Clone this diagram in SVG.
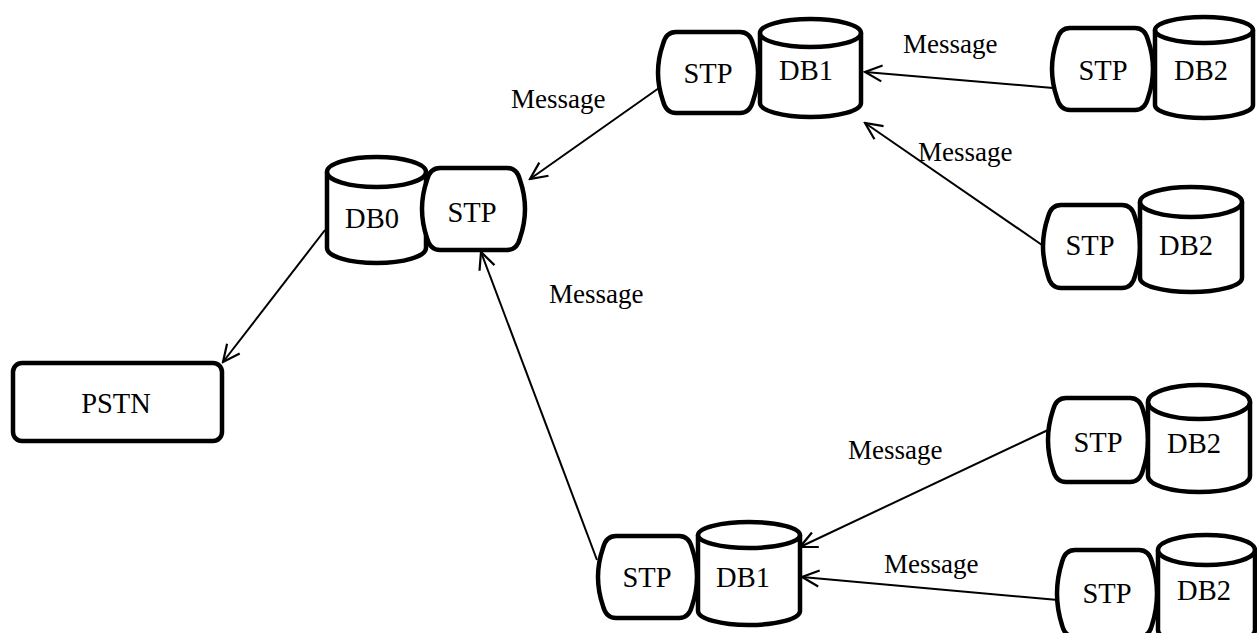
<svg xmlns="http://www.w3.org/2000/svg" width="1257" height="633" viewBox="0 0 1257 633">
<style>
.shape{fill:#fff;stroke:#000;stroke-width:4.5;stroke-linejoin:round}
.lbl{font-family:"Liberation Serif","Times New Roman",serif;font-size:27px;fill:#000}
.c{text-anchor:middle;font-size:28.5px}
.conn line{stroke:#000;stroke-width:2}
</style>
<defs>
<marker id="arr" viewBox="0 0 22 22" refX="20" refY="11" markerWidth="22" markerHeight="22" markerUnits="userSpaceOnUse" orient="auto">
<path d="M3,3 L20,11 L3,19" fill="none" stroke="#000" stroke-width="2.2"/>
</marker>
</defs>
<rect width="1257" height="633" fill="#fff"/>

<g id="pstn">
<rect class="shape" x="13" y="363" width="209" height="78" rx="9"/>
<text class="lbl c" x="116" y="413">PSTN</text>
</g>

<g id="db0">
<path class="shape" d="M327,172 V248 A49.5,15 0 0 0 426,248 V172"/>
<ellipse class="shape" cx="376.5" cy="172" rx="49.5" ry="15"/>
<text class="lbl c" x="372" y="228">DB0</text>
</g>
<g id="stp0">
<path class="shape" d="M440,168 H507 Q517,168 520,180 Q530,209 520,238 Q517,250 507,250 H440 Q430,250 427,238 Q417,209 427,180 Q430,168 440,168 Z"/>
<text class="lbl c" x="472" y="222">STP</text>
</g>

<g id="stp1a">
<path class="shape" d="M676,32 H740 Q750,32 753,44 Q763,72.5 753,101 Q750,113 740,113 H676 Q666,113 663,101 Q653,72.5 663,44 Q666,32 676,32 Z"/>
<text class="lbl c" x="708" y="83">STP</text>
</g>
<g id="db1a">
<path class="shape" d="M760,33 V103 A50.5,14 0 0 0 861,103 V33"/>
<ellipse class="shape" cx="810.5" cy="33" rx="50.5" ry="14"/>
<text class="lbl c" x="806" y="80">DB1</text>
</g>

<g id="stp1b">
<path class="shape" d="M616,536 H679 Q689,536 692,548 Q702,577 692,606 Q689,618 679,618 H616 Q606,618 603,606 Q593,577 603,548 Q606,536 616,536 Z"/>
<text class="lbl c" x="647" y="587">STP</text>
</g>
<g id="db1b">
<path class="shape" d="M698,535 V611 A51,14 0 0 0 800,611 V535"/>
<ellipse class="shape" cx="749" cy="535" rx="51" ry="13"/>
<text class="lbl c" x="743" y="587">DB1</text>
</g>

<g id="stp2a">
<path class="shape" d="M1070,28 H1135 Q1145,28 1148,40 Q1158,69 1148,98 Q1145,110 1135,110 H1070 Q1060,110 1057,98 Q1047,69 1057,40 Q1060,28 1070,28 Z"/>
<text class="lbl c" x="1103" y="80">STP</text>
</g>
<g id="db2a">
<path class="shape" d="M1155,30 V105 A49,13 0 0 0 1253,105 V30"/>
<ellipse class="shape" cx="1204" cy="30" rx="49" ry="13"/>
<text class="lbl c" x="1201" y="80">DB2</text>
</g>

<g id="stp2b">
<path class="shape" d="M1061,205 H1122 Q1132,205 1135,217 Q1145,246.5 1135,276 Q1132,288 1122,288 H1061 Q1051,288 1048,276 Q1038,246.5 1048,217 Q1051,205 1061,205 Z"/>
<text class="lbl c" x="1090" y="255">STP</text>
</g>
<g id="db2b">
<path class="shape" d="M1140,202 V278 A51,14 0 0 0 1242,278 V202"/>
<ellipse class="shape" cx="1191" cy="202" rx="51" ry="15"/>
<text class="lbl c" x="1186" y="255">DB2</text>
</g>

<g id="stp2c">
<path class="shape" d="M1066,398 H1130 Q1140,398 1143,410 Q1153,440 1143,470 Q1140,482 1130,482 H1066 Q1056,482 1053,470 Q1043,440 1053,410 Q1056,398 1066,398 Z"/>
<text class="lbl c" x="1098" y="452">STP</text>
</g>
<g id="db2c">
<path class="shape" d="M1148,402 V476 A51,16 0 0 0 1250,476 V402"/>
<ellipse class="shape" cx="1199" cy="402" rx="51" ry="17"/>
<text class="lbl c" x="1194" y="453">DB2</text>
</g>

<g id="stp2d">
<path class="shape" d="M1075,550 H1139 Q1149,550 1152,562 Q1162,593.5 1152,625 Q1149,637 1139,637 H1075 Q1065,637 1062,625 Q1052,593.5 1062,562 Q1065,550 1075,550 Z"/>
<text class="lbl c" x="1107" y="603">STP</text>
</g>
<g id="db2d">
<path class="shape" d="M1158,550 V630 A48.5,15 0 0 0 1255,630 V550"/>
<ellipse class="shape" cx="1206.5" cy="550" rx="48.5" ry="15"/>
<text class="lbl c" x="1204" y="600">DB2</text>
</g>

<g id="connectors" class="conn">
<line x1="659" y1="88" x2="530" y2="179" marker-end="url(#arr)"/>
<line x1="1053" y1="88" x2="865" y2="72" marker-end="url(#arr)"/>
<line x1="1042" y1="245" x2="865" y2="123" marker-end="url(#arr)"/>
<line x1="597" y1="560" x2="481" y2="252" marker-end="url(#arr)"/>
<line x1="325" y1="230" x2="223" y2="362" marker-end="url(#arr)"/>
<line x1="1048" y1="430" x2="800" y2="547" marker-end="url(#arr)"/>
<line x1="1058" y1="600" x2="802" y2="577" marker-end="url(#arr)"/>
</g>

<g id="labels">
<text class="lbl" x="511" y="108">Message</text>
<text class="lbl" x="903" y="53">Message</text>
<text class="lbl" x="918" y="161">Message</text>
<text class="lbl" x="549" y="303">Message</text>
<text class="lbl" x="848" y="459">Message</text>
<text class="lbl" x="884" y="573">Message</text>
</g>
</svg>
